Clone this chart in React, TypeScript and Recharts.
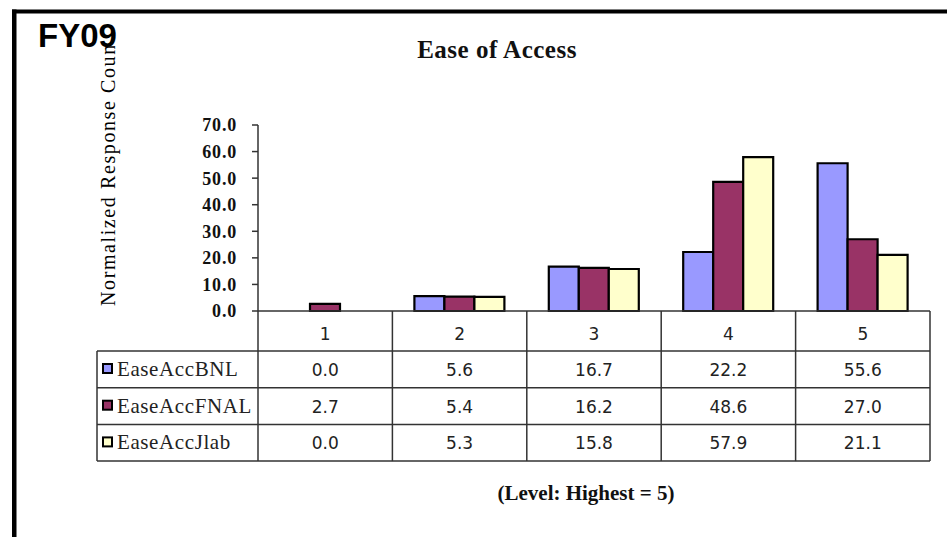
import React from 'react';
import { BarChart, Bar, XAxis, YAxis } from 'recharts';

// ── Data ──────────────────────────────────────────────────────────────────────
const levels = ['1', '2', '3', '4', '5'];
const bnl = [0.0, 5.6, 16.7, 22.2, 55.6];
const fnal = [2.7, 5.4, 16.2, 48.6, 27.0];
const jlab = [0.0, 5.3, 15.8, 57.9, 21.1];
const yTicks = [0, 10, 20, 30, 40, 50, 60, 70];

const seriesNames = ['EaseAccBNL', 'EaseAccFNAL', 'EaseAccJlab'];
const seriesKeys = ['bnl', 'fnal', 'jlab'];
const seriesValues = [bnl, fnal, jlab];
const seriesColors = ['#9999FF', '#993366', '#FFFFCC'];

const data = levels.map((level, i) => ({
  level,
  bnl: bnl[i],
  fnal: fnal[i],
  jlab: jlab[i],
}));

// ── Layout ────────────────────────────────────────────────────────────────────
const W = 947;
const H = 537;
const PLOT_LEFT = 258;
const PLOT_RIGHT = 930;
const PLOT_TOP = 125;
const PLOT_BOTTOM = 311;
const Y_AXIS_W = 60;
const X_AXIS_H = 150;
const COL_W = (PLOT_RIGHT - PLOT_LEFT) / levels.length;
const LEGEND_W = 161;
const HEADER_H = 40;
const ROW_H = 36.7;

const GRID = '#333';
const SERIF = '"Liberation Serif", "Times New Roman", serif';
const SANS = '"DejaVu Sans", Verdana, sans-serif';

// ── Data table under the x axis, drawn per category tick ─────────────────────
const TableTick = ({ x, y, index }: any) => {
  const left = x - COL_W / 2;
  const right = left + COL_W;
  const tableBottom = y + HEADER_H + ROW_H * seriesNames.length;
  const first = index === 0;
  const tableLeft = left - LEGEND_W;
  const tableRight = left + COL_W * levels.length;

  return (
    <g>
      {/* column borders */}
      <line x1={right} y1={y} x2={right} y2={tableBottom} stroke={GRID} strokeWidth={1.5} />
      {first && <line x1={left} y1={y} x2={left} y2={tableBottom} stroke={GRID} strokeWidth={1.5} />}
      {first && (
        <line x1={tableLeft} y1={y + HEADER_H} x2={tableLeft} y2={tableBottom} stroke={GRID} strokeWidth={1.5} />
      )}
      {first &&
        seriesNames.map((_, r) => (
          <line
            key={`h${r}`}
            x1={tableLeft}
            x2={tableRight}
            y1={y + HEADER_H + ROW_H * r}
            y2={y + HEADER_H + ROW_H * r}
            stroke={GRID}
            strokeWidth={1.5}
          />
        ))}
      {first && (
        <line x1={tableLeft} x2={tableRight} y1={tableBottom} y2={tableBottom} stroke={GRID} strokeWidth={1.5} />
      )}

      {/* legend column */}
      {first &&
        seriesNames.map((name, r) => {
          const top = y + HEADER_H + ROW_H * r;
          return (
            <g key={name}>
              <rect x={tableLeft + 6} y={top + 13} width={9} height={9} fill={seriesColors[r]} stroke="#000" strokeWidth={2} />
              <text x={tableLeft + 20} y={top + 25} fontFamily={SERIF} fontSize={21} letterSpacing={0.6} fill="#222">
                {name}
              </text>
            </g>
          );
        })}

      {/* header + values */}
      <text x={x} y={y + 29} textAnchor="middle" fontFamily={SANS} fontSize={17} fill="#222">
        {levels[index]}
      </text>
      {seriesValues.map((vals, r) => (
        <text
          key={r}
          x={x}
          y={y + HEADER_H + ROW_H * r + 25}
          textAnchor="middle"
          fontFamily={SANS}
          fontSize={17}
          fill="#222"
        >
          {vals[index].toFixed(1)}
        </text>
      ))}
    </g>
  );
};

export default function App() {
  return (
    <div style={{ position: 'absolute', left: 0, top: 0, width: W, height: H, background: '#fff' }}>
      <BarChart
        width={W}
        height={H}
        data={data}
        barSize={30}
        barGap={0}
        margin={{
          top: PLOT_TOP,
          right: W - PLOT_RIGHT,
          bottom: H - PLOT_BOTTOM - X_AXIS_H,
          left: PLOT_LEFT - Y_AXIS_W,
        }}
      >
        <XAxis
          dataKey="level"
          interval={0}
          axisLine={{ stroke: GRID, strokeWidth: 1.5 }}
          tickLine={false}
          tickSize={0}
          tickMargin={0}
          tick={<TableTick />}
          height={X_AXIS_H}
        />
        <YAxis
          width={Y_AXIS_W}
          domain={[0, 70]}
          ticks={yTicks}
          interval={0}
          tickFormatter={(v) => v.toFixed(1)}
          axisLine={{ stroke: GRID, strokeWidth: 1.5 }}
          tickLine={{ stroke: GRID, strokeWidth: 1.5 }}
          tickSize={6}
          tickMargin={15}
          tick={{ fill: '#111', fontSize: 18, fontWeight: 'bold', fontFamily: SERIF, letterSpacing: 0.8 }}
        />
        {seriesKeys.map((k, i) => (
          <Bar key={k} dataKey={k} fill={seriesColors[i]} stroke="#000" strokeWidth={2.2} isAnimationActive={false} />
        ))}
      </BarChart>

      {/* frame, titles and captions */}
      <svg width={W} height={H} style={{ position: 'absolute', left: 0, top: 0, pointerEvents: 'none' }}>
        <rect x={12} y={9.5} width={W - 12} height={4} fill="#000" />
        <rect x={12} y={9.5} width={4.5} height={H - 9.5} fill="#000" />

        <text x={497} y={58} textAnchor="middle" fontFamily={SERIF} fontWeight="bold" fontSize={25} letterSpacing={0.5} fill="#111">
          Ease of Access
        </text>

        <text
          transform="translate(115,306) rotate(-90)"
          fontFamily={SERIF}
          fontSize={20}
          letterSpacing={1.6}
          fill="#000"
        >
          Normalized Response Count
        </text>

        <text x={586} y={500} textAnchor="middle" fontFamily={SERIF} fontWeight="bold" fontSize={21} fill="#111">
          (Level: Highest = 5)
        </text>

        <rect x={34} y={16} width={86} height={30} fill="#fff" />
        <text x={38} y={47} fontFamily={'"Liberation Sans", Arial, sans-serif'} fontWeight="bold" fontSize={33} fill="#000">
          FY09
        </text>
      </svg>
    </div>
  );
}
